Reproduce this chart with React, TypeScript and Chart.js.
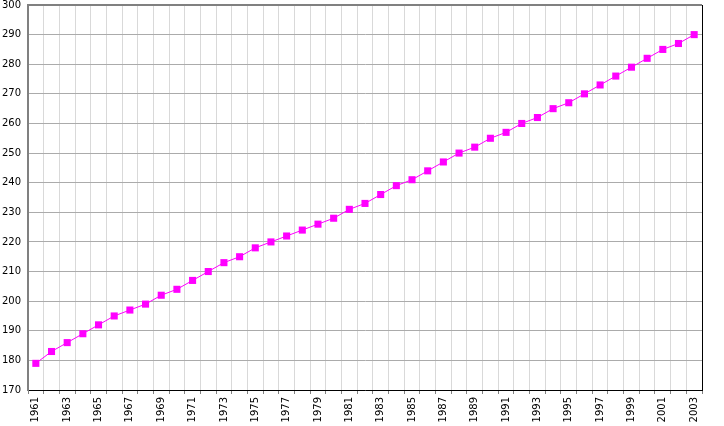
import { useEffect, useRef } from 'react';
import { Chart, registerables } from 'chart.js';

Chart.register(...registerables);

// Years on the x axis
const years = [
  1961, 1962, 1963, 1964, 1965, 1966, 1967, 1968, 1969, 1970, 1971, 1972, 1973, 1974, 1975,
  1976, 1977, 1978, 1979, 1980, 1981, 1982, 1983, 1984, 1985, 1986, 1987, 1988, 1989, 1990,
  1991, 1992, 1993, 1994, 1995, 1996, 1997, 1998, 1999, 2000, 2001, 2002, 2003,
];

// Values
const values = [
  179, 183, 186, 189, 192, 195, 197, 199, 202, 204, 207, 210, 213, 215, 218,
  220, 222, 224, 226, 228, 231, 233, 236, 239, 241, 244, 247, 250, 252, 255,
  257, 260, 262, 265, 267, 270, 273, 276, 279, 282, 285, 287, 290,
];

const yMin = 170;
const yMax = 300;

const FONT = { family: '"DejaVu Sans", Verdana, sans-serif', size: 10 };

// top (gray) and right (black) frame lines around the plot
const framePlugin = {
  id: 'frame',
  afterDraw(chart: Chart) {
    const { ctx, chartArea } = chart;
    ctx.save();
    ctx.strokeStyle = '#808080';
    ctx.lineWidth = 2;
    ctx.beginPath();
    ctx.moveTo(chartArea.left - 1, chartArea.top);
    ctx.lineTo(chartArea.right, chartArea.top);
    ctx.stroke();
    ctx.strokeStyle = '#000000';
    ctx.lineWidth = 1;
    ctx.beginPath();
    ctx.moveTo(Math.round(chartArea.right) + 0.5, chartArea.top);
    ctx.lineTo(Math.round(chartArea.right) + 0.5, chartArea.bottom);
    ctx.stroke();
    ctx.restore();
  },
};

export default function App() {
  const canvasRef = useRef<HTMLCanvasElement | null>(null);
  const chartRef = useRef<Chart | null>(null);

  useEffect(() => {
    if (!canvasRef.current) return;
    if (chartRef.current) chartRef.current.destroy();

    chartRef.current = new Chart(canvasRef.current, {
      type: 'line',
      data: {
        labels: years.map(String),
        datasets: [
          {
            data: values,
            borderColor: '#ff00ff',
            backgroundColor: '#ff00ff',
            borderWidth: 1,
            pointStyle: 'rect',
            pointRadius: 5,
            pointBorderWidth: 0,
            pointBackgroundColor: '#ff00ff',
            tension: 0,
          },
        ],
      },
      options: {
        responsive: false,
        animation: false,
        layout: { padding: { top: 5, right: 22, left: 0, bottom: 0 } },
        plugins: {
          legend: { display: false },
          tooltip: { enabled: false },
        },
        scales: {
          x: {
            type: 'category',
            offset: true,
            afterFit: (scale: any) => {
              scale.height = 36;
              scale.paddingLeft = 0;
              scale.paddingRight = 0;
            },
            grid: {
              offset: true,
              color: '#d9d9d9',
              tickColor: '#808080',
              tickLength: 4,
            },
            border: { color: '#000000', width: 1 },
            ticks: {
              autoSkip: false,
              maxRotation: 90,
              minRotation: 90,
              padding: 3,
              color: '#000000',
              font: FONT,
              callback: (_v: any, i: number) => (i % 2 === 0 ? String(years[i]) : ''),
            },
          },
          y: {
            min: yMin,
            max: yMax,
            afterFit: (scale: any) => {
              scale.width = 28;
              scale.paddingTop = 0;
              scale.paddingBottom = 0;
            },
            grid: {
              color: (c: any) => (c.tick && c.tick.value % 10 === 0 ? '#ababab' : 'rgba(0,0,0,0)'),
              tickColor: (c: any) => (c.tick && c.tick.value % 10 !== 0 ? '#808080' : 'rgba(0,0,0,0)'),
              tickLength: 3,
            },
            border: { color: '#808080', width: 2 },
            ticks: {
              stepSize: 5,
              padding: 4,
              color: '#000000',
              font: FONT,
              callback: (v: any) => (Number(v) % 10 === 0 ? String(v) : ''),
            },
          },
        },
      },
      plugins: [framePlugin],
    });

    return () => {
      if (chartRef.current) {
        chartRef.current.destroy();
        chartRef.current = null;
      }
    };
  }, []);

  return (
    <div style={{ position: 'fixed', left: 0, top: 0, width: 724, height: 426, background: '#ffffff' }}>
      <canvas ref={canvasRef} width={724} height={426} style={{ width: 724, height: 426 }} />
    </div>
  );
}
